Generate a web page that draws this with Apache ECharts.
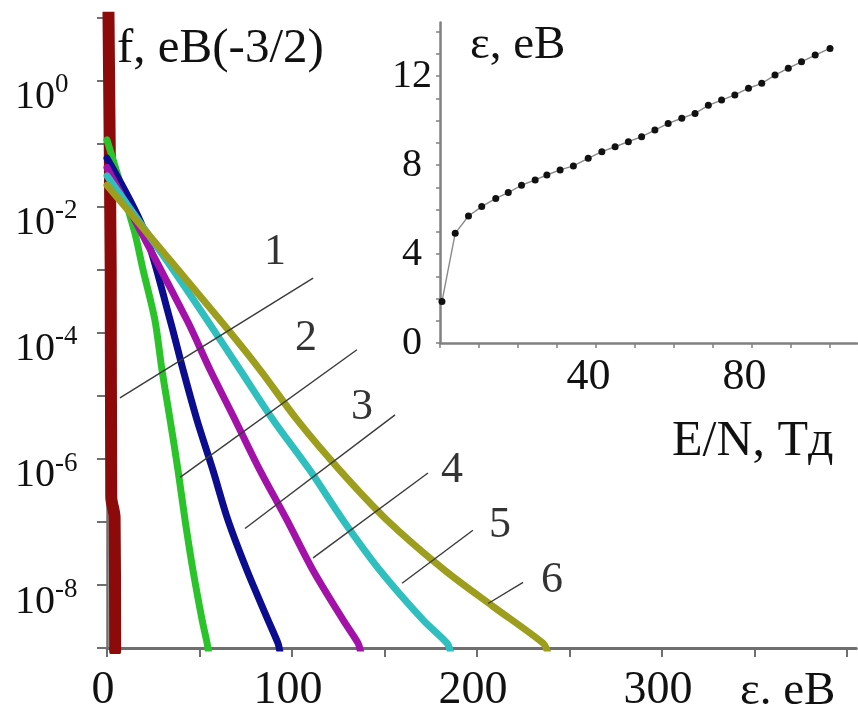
<!DOCTYPE html>
<html>
<head>
<meta charset="utf-8">
<script src="https://cdn.jsdelivr.net/npm/echarts@6/dist/echarts.min.js"></script>
<style>
  html, body { margin: 0; padding: 0; background: #fff; }
  #chart { width: 858px; height: 718px; }
</style>
</head>
<body>
<div id="chart"></div>
<script>
// Electron energy distribution functions f(ε), curves 1–6
const eps1 = [0.8, 2.0, 2.3, 4.1, 4.4];
const f1   = [12, 1.0e-3, 2.5e-7, 1.2e-7, 9e-10];

const eps2 = [0, 14.6, 19.5, 25.9, 29.7, 34.1, 38.4, 42.2, 46.5, 51.4, 54.1, 54.8];
const f2   = [0.115, 4.3e-3, 1.0e-3, 1.6e-4, 2.6e-5, 4.2e-6, 6.6e-7, 1.07e-7, 1.7e-8, 2.8e-9, 1.2e-9, 9e-10];

const eps3 = [0, 20.0, 34.1, 41.1, 48.6, 57.3, 65.4, 75.7, 87.0, 92.4, 93.4];
const f3   = [0.059, 4.3e-3, 1.6e-4, 2.6e-5, 4.2e-6, 6.6e-7, 1.07e-7, 1.7e-8, 2.8e-9, 1.2e-9, 9e-10];

const eps4 = [0, 43.2, 55.7, 69.2, 82.7, 97.3, 111.4, 127.6, 135.7, 137.0];
const f4   = [0.042, 1.6e-4, 2.6e-5, 4.2e-6, 6.6e-7, 1.07e-7, 1.7e-8, 2.8e-9, 1.2e-9, 9e-10];

const eps5 = [0, 35.7, 54.1, 71.9, 89.7, 109.7, 127.6, 147.6, 170.8, 183.8, 185.6];
const f5   = [0.031, 1.0e-3, 1.6e-4, 2.6e-5, 4.2e-6, 6.6e-7, 1.07e-7, 1.7e-8, 2.8e-9, 1.2e-9, 9e-10];

const eps6 = [0, 61.1, 82.7, 102.7, 125.9, 151.4, 182.7, 208.6, 235.7, 238.0];
const f6   = [0.022, 1.6e-4, 2.6e-5, 4.2e-6, 6.6e-7, 1.07e-7, 1.7e-8, 4.6e-9, 1.2e-9, 9e-10];

const curveEps = [eps1, eps2, eps3, eps4, eps5, eps6];
const curveF = [f1, f2, f3, f4, f5, f6];
const curveColors = ['#8c0a0a', '#2ac42a', '#0c0c8e', '#a312a8', '#2fbfbf', '#9e9e1e'];

// Leader lines joining each curve to its number
const curveNames = ['1', '2', '3', '4', '5', '6'];
const leaderEps = [[7.0, 111.4], [39.5, 135.1], [74.6, 155.7], [111.4, 173.5], [159.5, 197.8], [206.0, 224.9]];
const leaderF = [[9.3e-6, 7.4e-4], [5.1e-7, 5.4e-5], [7.9e-8, 5.0e-6], [2.7e-8, 6.0e-7], [1.07e-8, 7.4e-8], [5.1e-9, 1.1e-8]];
const nameEps = [90.8, 107.6, 137.8, 186.5, 212.4, 240.5];
const nameF = [1.9e-3, 8.3e-5, 6.6e-6, 6.6e-7, 8.9e-8, 1.2e-8];

// Axis ticks and labels of the main plot
const xTicks = [0, 50, 100, 150, 200, 250, 300, 350, 400];
const xTickLabels = [0, 100, 200, 300];
const yLabelPowers = [0, -2, -4, -6, -8];

// Inset: mean electron energy vs reduced field E/N
const insetEN = [0.5, 3.9, 7.3, 10.7, 14.3, 17.5, 20.9, 24.4, 27.4, 30.8, 34.2, 38.0, 41.5, 44.9, 48.3,
                 51.7, 55.1, 58.5, 62.0, 65.4, 68.8, 72.2, 75.6, 79.1, 82.5, 85.9, 89.3, 92.7, 96.2, 100.0];
const insetEps = [1.86, 4.93, 5.71, 6.13, 6.50, 6.76, 7.09, 7.33, 7.55, 7.78, 7.96, 8.30, 8.60, 8.82, 9.05,
                  9.27, 9.57, 9.87, 10.10, 10.32, 10.68, 10.92, 11.15, 11.45, 11.67, 12.04, 12.35, 12.64, 12.94, 13.24];
const insetXTicks = [0, 10, 20, 30, 40, 50, 60, 70, 80, 90, 100];
const insetXLabels = [40, 80];
const insetYTicks = [0, 1, 2, 3, 4, 5, 6, 7, 8, 9, 10, 11, 12, 13, 14];
const insetYLabels = [0, 4, 8, 12];

const SERIF = '"Liberation Serif", "Times New Roman", serif';
const AXIS_GRAY = '#6f6f6f';

const series = [];
curveEps.forEach((eps, k) => {
  series.push({
    type: 'line',
    xAxisIndex: 0, yAxisIndex: 0,
    data: eps.map((e, i) => [e, curveF[k][i]]),
    smooth: 0.3,
    showSymbol: false,
    clip: true,
    silent: true,
    z: 3 + k,
    lineStyle: { color: curveColors[k], width: k === 0 ? 12 : 7, cap: 'round', join: 'round' }
  });
});
leaderEps.forEach((pair, k) => {
  series.push({
    type: 'line',
    xAxisIndex: 0, yAxisIndex: 0,
    data: [[pair[0], leaderF[k][0]], [pair[1], leaderF[k][1]]],
    showSymbol: false,
    silent: true,
    z: 12,
    lineStyle: { color: '#3a3a3a', width: 1.4 }
  });
});
series.push({
  type: 'scatter',
  xAxisIndex: 0, yAxisIndex: 0,
  data: nameEps.map((e, i) => ({ value: [e, nameF[i]], name: curveNames[i] })),
  symbolSize: 1,
  itemStyle: { color: 'rgba(0,0,0,0)' },
  silent: true,
  z: 13,
  label: {
    show: true, position: 'inside', formatter: p => p.name,
    fontFamily: SERIF, fontSize: 44, color: '#000',
    textBorderWidth: 0, textShadowBlur: 0
  }
});
series.push({
  type: 'line',
  xAxisIndex: 1, yAxisIndex: 1,
  data: insetEN.map((x, i) => [x, insetEps[i]]),
  symbol: 'circle',
  symbolSize: 7,
  silent: true,
  itemStyle: { color: '#111' },
  lineStyle: { color: '#8a8a8a', width: 1.4 },
  z: 5
});

const option = {
  animation: false,
  backgroundColor: '#fff',
  grid: [
    { left: 107, top: 17.7, width: 749.25, height: 630.4 },
    { left: 440, top: 22.6, width: 417.3, height: 320.4 }
  ],
  xAxis: [
    {
      type: 'value', gridIndex: 0, min: 0, max: 405, interval: 50,
      axisLine: { lineStyle: { color: AXIS_GRAY, width: 3 } },
      axisTick: { show: true, length: 9, customValues: xTicks, lineStyle: { color: AXIS_GRAY, width: 2 } },
      axisLabel: {
        customValues: xTickLabels,
        formatter: v => (xTickLabels.indexOf(v) >= 0 ? String(v) : ''),
        fontFamily: SERIF, fontSize: 46, color: '#111', margin: 20, padding: [0, 8, 0, 0]
      },
      splitLine: { show: false }
    },
    {
      type: 'value', gridIndex: 1, min: 0, max: 107, interval: 10,
      axisLine: { lineStyle: { color: '#808080', width: 2.5 } },
      axisTick: { show: true, length: 5, customValues: insetXTicks, lineStyle: { color: '#808080', width: 1.5 } },
      axisLabel: {
        customValues: insetXLabels,
        formatter: v => (insetXLabels.indexOf(v) >= 0 ? String(v) : ''),
        fontFamily: SERIF, fontSize: 44, color: '#111', margin: 12, padding: [0, 15, 0, 0]
      },
      splitLine: { show: false }
    }
  ],
  yAxis: [
    {
      type: 'log', logBase: 10, gridIndex: 0, min: 1e-9, max: 10, interval: 1,
      axisLine: { show: true, lineStyle: { color: AXIS_GRAY, width: 2.5 } },
      axisTick: { show: true, length: 10, lineStyle: { color: AXIS_GRAY, width: 2 } },
      axisLabel: {
        align: 'left', margin: 92, padding: [34, 0, 0, 0],
        formatter: v => {
          const p = Math.round(Math.log10(v));
          return yLabelPowers.indexOf(p) >= 0 ? '{b|10}{s|' + p + '}' : '';
        },
        rich: {
          b: { fontFamily: SERIF, fontSize: 40, lineHeight: 52, color: '#111' },
          s: { fontFamily: SERIF, fontSize: 27, lineHeight: 30, verticalAlign: 'top', color: '#111' }
        }
      },
      splitLine: { show: false }
    },
    {
      type: 'value', gridIndex: 1, min: 0, max: 14.4, interval: 1,
      axisLine: { show: true, lineStyle: { color: '#808080', width: 2.5 } },
      axisTick: { show: true, length: 4, customValues: insetYTicks, lineStyle: { color: '#808080', width: 1.5 } },
      axisLabel: {
        customValues: insetYLabels,
        formatter: v => (insetYLabels.indexOf(v) >= 0 ? String(v) : ''),
        align: 'center', margin: 28,
        fontFamily: SERIF, fontSize: 40, color: '#111'
      },
      splitLine: { show: false }
    }
  ],
  graphic: [
    { type: 'text', x: 117, y: 49, z: 20, style: { text: 'f, eB(-3/2)', font: '49px ' + SERIF, fill: '#111', verticalAlign: 'middle', textVerticalAlign: 'middle' } },
    { type: 'text', x: 470, y: 46, z: 20, style: { text: 'ε, eB', font: '47px ' + SERIF, fill: '#111', verticalAlign: 'middle', textVerticalAlign: 'middle' } },
    { type: 'text', x: 672, y: 442, z: 20, style: { text: 'E/N, Тд', font: '50px ' + SERIF, fill: '#111', verticalAlign: 'middle', textVerticalAlign: 'middle' } },
    { type: 'text', x: 740, y: 692, z: 20, style: { text: 'ε. eB', font: '47px ' + SERIF, fill: '#111', verticalAlign: 'middle', textVerticalAlign: 'middle' } }
  ],
  series: series
};

const chart = echarts.init(document.getElementById('chart'), null, { renderer: 'canvas' });
chart.setOption(option);
</script>
</body>
</html>
